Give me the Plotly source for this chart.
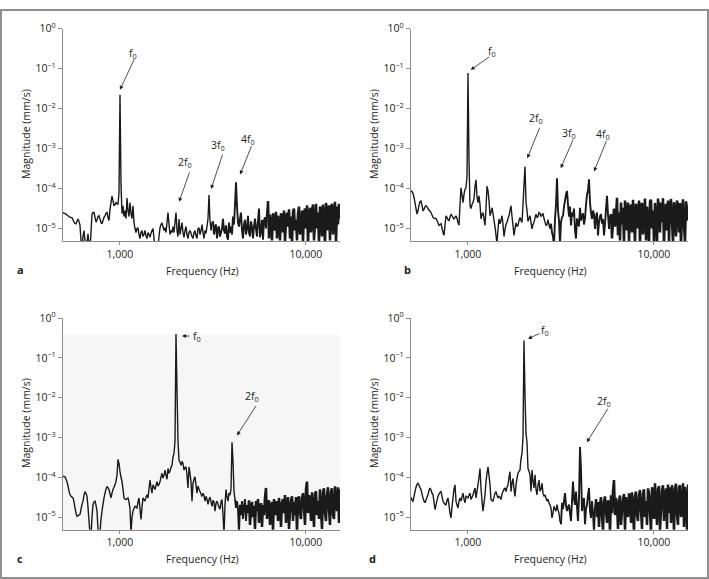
import numpy as np
import plotly.graph_objects as go

W, H = 709, 579

# frequency bins (Hz), log spaced over the plotted band
FREQ = np.logspace(2.694, 4.183, 278)

# spectra, as log10 of magnitude (mm/s)
MAG_A_LOG10 = [
    -4.60, -4.62, -4.62, -4.64, -4.66, -4.68, -4.70, -4.72, -4.72, -4.73,
    -4.78, -4.84, -4.87, -4.88, -4.82, -4.76, -4.82, -4.92, -5.30, -5.50,
    -5.20, -5.05, -5.30, -5.50, -5.35, -5.13, -5.40, -5.50, -5.10, -4.64,
    -4.60, -4.60, -4.72, -4.84, -4.78, -4.70, -4.68, -4.76, -4.85, -4.88,
    -4.80, -4.72, -4.68, -4.62, -4.60, -4.72, -4.80, -4.52, -4.35, -4.19,
    -4.30, -4.43, -4.40, -4.35, -4.38, -4.40, -4.10, -1.65, -3.90, -4.63,
    -4.43, -4.70, -4.55, -4.75, -4.24, -4.55, -4.70, -4.35, -4.62, -4.75,
    -4.43, -4.85, -5.00, -5.10, -5.00, -4.98, -5.15, -5.25, -5.10, -5.05,
    -5.20, -5.15, -5.05, -5.18, -5.25, -5.10, -5.15, -5.22, -5.12, -5.05,
    -5.00, -5.25, -5.45, -5.50, -5.50, -5.45, -5.20, -4.98, -4.90, -4.86,
    -4.95, -5.05, -4.98, -5.10, -4.85, -4.60, -4.90, -5.15, -5.05, -5.10,
    -4.95, -5.10, -4.85, -4.60, -5.05, -5.20, -4.76, -5.15, -5.00, -4.85,
    -5.10, -5.22, -5.05, -4.95, -5.15, -5.25, -5.10, -5.05, -5.12, -5.20,
    -5.25, -5.10, -5.05, -5.18, -5.25, -5.00, -4.98, -5.15, -5.05, -4.90,
    -5.10, -5.25, -5.05, -5.12, -4.95, -4.75, -4.16, -4.80, -5.05, -4.85,
    -4.82, -5.15, -4.95, -4.90, -5.25, -5.00, -4.95, -5.20, -5.10, -5.00,
    -4.76, -5.05, -5.12, -4.92, -5.20, -5.28, -4.85, -5.10, -4.95, -5.15,
    -4.70, -4.90, -4.40, -3.84, -4.45, -4.85, -4.95, -4.75, -4.60, -5.05,
    -5.25, -4.90, -4.78, -5.15, -5.00, -4.68, -5.10, -5.20, -4.82, -4.95,
    -5.25, -4.95, -4.75, -5.00, -5.20, -4.80, -4.50, -5.22, -5.05, -4.78,
    -5.28, -4.80, -4.72, -5.00, -4.60, -4.31, -5.25, -4.65, -4.90, -5.30,
    -4.62, -4.75, -5.05, -4.58, -5.25, -4.68, -4.85, -5.30, -4.62, -4.70,
    -5.10, -4.55, -5.35, -4.82, -4.60, -4.95, -4.52, -5.25, -4.70, -5.40,
    -4.58, -4.50, -5.05, -4.78, -5.30, -4.62, -4.45, -5.15, -4.90, -4.55,
    -5.35, -4.62, -4.50, -5.00, -4.42, -5.40, -4.70, -4.48, -5.10, -4.55,
    -4.40, -5.30, -4.85, -4.38, -5.00, -4.60, -5.40, -4.45, -4.52, -5.20,
    -4.40, -4.75, -5.45, -4.36, -4.60, -5.05, -4.42, -5.30, -4.50, -4.38,
    -5.15, -4.62, -4.33, -5.40, -4.45, -4.90, -4.38, -4.75,
]

MAG_B_LOG10 = [
    -4.05, -4.08, -4.12, -4.22, -4.35, -4.50, -4.64, -4.55, -4.42, -4.33,
    -4.31, -4.42, -4.56, -4.52, -4.45, -4.43, -4.46, -4.50, -4.54, -4.56,
    -4.60, -4.66, -4.72, -4.74, -4.75, -4.75, -4.80, -4.86, -4.92, -4.90,
    -4.88, -4.98, -5.10, -5.17, -4.92, -4.68, -4.72, -4.78, -4.80, -4.72,
    -4.64, -4.68, -4.72, -4.76, -4.72, -4.68, -4.75, -4.85, -4.92, -4.40,
    -3.98, -4.15, -4.35, -4.15, -4.02, -3.98, -3.70, -1.11, -3.30, -4.43,
    -4.50, -4.40, -4.35, -4.25, -3.95, -3.78, -4.20, -4.35, -4.18, -4.40,
    -4.76, -4.65, -4.60, -4.75, -4.92, -4.50, -3.94, -4.05, -4.30, -4.68,
    -4.60, -4.48, -4.62, -4.80, -4.95, -5.17, -5.40, -5.00, -4.76, -4.88,
    -4.80, -4.68, -4.90, -5.20, -5.02, -4.90, -4.84, -4.75, -4.68, -4.55,
    -4.43, -4.70, -4.92, -5.17, -5.00, -4.86, -4.95, -4.92, -4.80, -4.72,
    -4.80, -4.85, -4.40, -3.90, -3.45, -4.35, -4.55, -4.82, -4.75, -4.68,
    -4.85, -5.01, -4.90, -4.84, -4.74, -4.64, -4.72, -4.70, -4.60, -4.62,
    -4.70, -4.66, -4.62, -4.75, -4.84, -4.92, -4.90, -4.78, -4.90, -5.01,
    -4.88, -5.10, -5.20, -5.45, -4.76, -4.40, -3.74, -4.55, -4.80, -5.40,
    -4.84, -4.72, -4.68, -4.45, -4.30, -4.15, -4.06, -4.40, -4.70, -4.45,
    -4.92, -4.60, -4.70, -4.50, -5.05, -5.25, -4.75, -4.84, -4.95, -4.48,
    -4.80, -4.70, -4.62, -4.90, -4.75, -4.40, -4.15, -4.05, -3.77, -4.35,
    -4.60, -4.76, -4.55, -4.64, -5.01, -4.70, -4.60, -5.17, -4.85, -4.70,
    -4.64, -4.88, -4.76, -5.17, -4.90, -4.50, -4.18, -4.65, -5.01, -4.70,
    -4.64, -5.25, -4.85, -4.50, -4.95, -4.70, -4.23, -5.17, -4.60, -5.30,
    -4.35, -4.90, -4.48, -5.40, -4.30, -4.60, -5.05, -4.35, -5.35, -4.50,
    -4.40, -5.10, -4.28, -4.75, -5.40, -4.38, -4.55, -5.00, -4.30, -5.45,
    -4.42, -4.36, -5.15, -4.65, -4.25, -5.30, -4.45, -4.90, -5.40, -4.32,
    -4.28, -5.00, -4.55, -5.35, -4.36, -4.70, -5.40, -4.25, -4.50, -5.10,
    -4.35, -4.85, -4.24, -5.45, -4.60, -4.38, -5.05, -4.30, -5.35, -4.45,
    -4.26, -4.80, -5.40, -4.34, -4.55, -5.20, -4.30, -4.42, -5.10, -4.36,
    -5.45, -4.60, -4.27, -4.95, -5.35, -4.32, -4.50, -4.80,
]

MAG_C_LOG10 = [
    -3.98, -3.98, -3.99, -4.05, -4.11, -4.22, -4.35, -4.44, -4.48, -4.50,
    -4.52, -4.62, -4.77, -4.90, -4.98, -4.97, -4.95, -4.93, -4.80, -4.68,
    -4.60, -4.45, -4.36, -4.40, -4.48, -4.75, -5.10, -5.40, -5.50, -5.00,
    -4.69, -4.62, -4.60, -4.70, -4.85, -5.30, -5.50, -5.40, -5.05, -4.85,
    -4.68, -4.52, -4.40, -4.30, -4.23, -4.26, -4.31, -4.42, -4.52, -4.40,
    -4.31, -4.25, -4.19, -4.10, -3.95, -3.55, -3.65, -3.86, -4.00, -4.11,
    -4.30, -4.52, -4.55, -4.56, -4.54, -4.52, -4.62, -4.80, -5.40, -5.00,
    -4.85, -4.78, -4.73, -4.75, -4.77, -4.62, -4.52, -4.80, -5.06, -4.75,
    -4.52, -4.56, -4.60, -4.50, -4.44, -4.52, -4.30, -4.07, -4.25, -4.40,
    -4.19, -4.25, -4.31, -4.20, -4.11, -4.22, -4.18, -4.11, -4.00, -3.90,
    -4.02, -3.95, -3.82, -3.95, -4.05, -3.78, -3.90, -3.84, -3.75, -3.70,
    -3.49, -3.40, -3.10, -0.40, -1.80, -3.10, -3.57, -3.62, -3.70, -3.60,
    -3.65, -3.82, -3.76, -3.74, -3.95, -4.27, -3.74, -3.90, -4.11, -4.60,
    -4.15, -4.05, -3.99, -4.20, -4.40, -4.22, -4.30, -4.36, -4.42, -4.48,
    -4.40, -4.46, -4.60, -4.48, -4.55, -4.68, -4.56, -4.50, -4.62, -4.73,
    -4.58, -4.62, -4.85, -4.66, -4.60, -4.68, -4.75, -4.80, -4.62, -4.56,
    -4.93, -5.45, -4.70, -4.31, -4.50, -4.60, -4.40, -4.45, -4.31, -3.12,
    -3.60, -4.36, -4.55, -4.77, -4.60, -4.80, -5.40, -4.69, -4.95, -4.60,
    -5.05, -4.75, -4.55, -5.10, -4.70, -4.90, -4.58, -5.20, -4.80, -4.62,
    -5.00, -4.72, -5.30, -4.60, -4.85, -4.55, -5.15, -4.78, -4.65, -5.25,
    -4.70, -4.95, -4.50, -4.27, -5.05, -4.65, -4.58, -5.20, -4.85, -4.62,
    -5.35, -4.55, -4.75, -4.95, -4.60, -5.10, -4.52, -4.80, -5.25, -4.64,
    -4.55, -4.90, -4.45, -5.15, -4.70, -4.50, -5.30, -4.85, -4.58, -4.48,
    -5.10, -4.62, -4.95, -4.50, -5.40, -4.55, -4.48, -4.90, -5.05, -4.52,
    -4.40, -4.75, -5.20, -4.30, -4.11, -4.90, -4.45, -4.60, -5.10, -4.38,
    -4.80, -5.25, -4.42, -4.35, -4.95, -4.60, -5.05, -4.30, -4.85, -5.30,
    -4.38, -4.28, -4.90, -5.10, -4.45, -4.25, -4.80, -5.20, -4.36, -4.28,
    -4.95, -5.05, -4.23, -4.60, -4.85, -4.25, -5.15, -4.30,
]

MAG_D_LOG10 = [
    -4.50, -4.58, -4.60, -4.48, -4.36, -4.25, -4.18, -4.15, -4.20, -4.26,
    -4.31, -4.42, -4.52, -4.60, -4.64, -4.58, -4.50, -4.44, -4.33, -4.27,
    -4.32, -4.40, -4.44, -4.62, -4.81, -4.70, -4.58, -4.48, -4.42, -4.38,
    -4.36, -4.48, -4.60, -4.65, -4.68, -4.69, -4.58, -4.52, -4.70, -4.90,
    -5.02, -4.75, -4.52, -4.30, -4.19, -4.60, -4.70, -4.77, -4.60, -4.52,
    -4.60, -4.50, -4.40, -4.55, -4.64, -4.48, -4.50, -4.52, -4.45, -4.40,
    -4.56, -4.50, -4.44, -4.35, -4.27, -4.52, -4.35, -4.19, -4.00, -3.78,
    -4.27, -4.60, -4.85, -4.65, -4.44, -4.11, -3.90, -3.74, -3.95, -4.19,
    -4.56, -4.58, -4.60, -4.50, -4.40, -4.36, -4.45, -4.52, -4.48, -4.50,
    -4.56, -4.42, -4.36, -4.30, -4.27, -4.36, -4.25, -4.19, -4.00, -3.86,
    -4.36, -4.15, -4.03, -4.30, -4.48, -4.19, -4.02, -3.90, -3.85, -3.82,
    -3.53, -3.40, -3.00, -0.56, -1.96, -2.90, -3.12, -3.78, -3.85, -3.94,
    -4.36, -3.82, -4.10, -4.27, -3.94, -4.30, -4.44, -4.20, -4.07, -4.35,
    -4.30, -4.15, -4.40, -4.48, -4.44, -4.52, -4.60, -4.55, -4.65, -4.70,
    -4.77, -5.02, -4.90, -4.73, -4.80, -4.85, -4.69, -4.82, -4.90, -5.10,
    -5.18, -4.64, -4.80, -4.60, -4.40, -4.70, -4.85, -4.75, -4.69, -4.90,
    -5.10, -4.60, -4.11, -4.55, -4.69, -4.36, -4.75, -5.10, -4.52, -3.24,
    -3.80, -4.85, -4.60, -4.52, -5.18, -4.80, -4.69, -4.45, -4.27, -4.85,
    -5.02, -4.60, -4.90, -5.40, -4.77, -4.55, -5.00, -4.62, -5.25, -4.70,
    -4.50, -4.95, -5.35, -4.62, -4.48, -4.85, -5.15, -4.58, -4.65, -5.40,
    -4.45, -4.90, -4.35, -4.07, -4.95, -4.52, -4.70, -5.30, -4.60, -4.46,
    -5.20, -4.85, -4.55, -4.42, -5.35, -4.50, -4.90, -5.00, -4.40, -4.52,
    -5.15, -4.38, -4.80, -5.40, -4.48, -4.36, -4.95, -5.10, -4.45, -4.32,
    -4.85, -5.30, -4.42, -4.30, -5.00, -4.60, -5.20, -4.28, -4.40, -4.90,
    -5.40, -4.25, -4.36, -5.05, -4.15, -4.70, -5.20, -4.30, -4.22, -5.35,
    -4.85, -4.32, -4.20, -5.10, -4.55, -4.28, -5.30, -4.18, -4.90, -4.25,
    -5.15, -4.20, -4.45, -5.40, -4.30, -4.16, -4.95, -5.20, -4.25, -4.20,
    -5.00, -4.75, -4.15, -5.25, -4.24, -4.60, -5.35, -4.18,
]

Y_TICKS = [1, 1e-1, 1e-2, 1e-3, 1e-4, 1e-5]
Y_TICKTEXT = ['10<sup>0</sup>', '10<sup>\u22121</sup>', '10<sup>\u22122</sup>',
              '10<sup>\u22123</sup>', '10<sup>\u22124</sup>', '10<sup>\u22125</sup>']
X_TICKS = [1000, 10000]
X_TICKTEXT = ['1,000', '10,000']

# harmonic markers: (label, arrow head log10 f, log10 mag, tail dx, dy, label log10 f, log10 mag)
MARKS = {
    'a': [('f<sub>0</sub>', 3.000, -1.53, 15, -32, 3.070, -0.62),
          ('2f<sub>0</sub>', 3.318, -4.33, 11, -31, 3.350, -3.35),
          ('3f<sub>0</sub>', 3.490, -4.01, 12, -36, 3.527, -2.93),
          ('4f<sub>0</sub>', 3.646, -3.65, 12, -30, 3.689, -2.76)],
    'b': [('f<sub>0</sub>', 3.015, -1.03, 20, -14, 3.129, -0.57),
          ('2f<sub>0</sub>', 3.319, -3.24, 13, -32, 3.366, -2.24),
          ('3f<sub>0</sub>', 3.499, -3.49, 13, -30, 3.543, -2.61),
          ('4f<sub>0</sub>', 3.678, -3.57, 13, -32, 3.726, -2.64)],
    'c': [('f<sub>0</sub>', 3.334, -0.45, 9, 0, 3.414, -0.47),
          ('2f<sub>0</sub>', 3.629, -2.95, 20, -31, 3.710, -1.98)],
    'd': [('f<sub>0</sub>', 3.323, -0.52, 13, -6, 3.414, -0.32),
          ('2f<sub>0</sub>', 3.639, -3.12, 22, -35, 3.732, -2.10)],
}

FONT = 'Open Sans, sans-serif'
INK = '#231f20'
AXIS_GREY = '#8c8c8c'


def fx(px):
    return px / W


def fy(py):
    return 1 - py / H


# pixel boxes of the four plot areas: (left, right), (top, bottom)
BOXES = {
    'a': ((63, 340), (20, 236)),
    'b': ((411, 688), (20, 236)),
    'c': ((63, 340), (314, 529)),
    'd': ((411, 688), (314, 529)),
}
SERIES = {'a': MAG_A_LOG10, 'b': MAG_B_LOG10, 'c': MAG_C_LOG10, 'd': MAG_D_LOG10}
# bins where the trace turns into a busy, then a dense noise band (drawn heavier there)
BUSY_FROM = {'a': 150, 'b': 140, 'c': 172, 'd': 150}
DENSE_FROM = {'a': 205, 'b': 200, 'c': 185, 'd': 185}

fig = go.Figure()
layout = dict()
annotations = []


def note(x, y, text, size=10.5, **kw):
    # centred paper-positioned text
    d = dict(x=fx(x), y=fy(y), xref='paper', yref='paper', text=text, showarrow=False,
             xanchor='center', yanchor='middle', font=dict(size=size, color=INK))
    d.update(kw)
    return d


for k, name in enumerate(['a', 'b', 'c', 'd']):
    n = '' if k == 0 else str(k + 1)
    (x0, x1), (y0, y1) = BOXES[name]
    mag = 10 ** np.array(SERIES[name])
    s1, s2 = BUSY_FROM[name], DENSE_FROM[name]

    for sl, w in ((slice(0, s1 + 1), 1.4), (slice(s1, s2 + 1), 1.9), (slice(s2, None), 2.5)):
        fig.add_trace(go.Scatter(
            x=FREQ[sl], y=mag[sl],
            mode='lines', line=dict(color='#1a1a1a', width=w, simplify=False),
            xaxis='x' + n, yaxis='y' + n, showlegend=False, hoverinfo='skip'
        ))

    layout['xaxis' + n] = dict(
        type='log', range=[2.694, 4.183], domain=[fx(x0), fx(x1)], anchor='y' + n,
        showgrid=False, zeroline=False, showline=True, linecolor=AXIS_GREY, linewidth=1.2,
        ticks='outside', ticklen=3, tickcolor=AXIS_GREY, tickwidth=1,
        tickvals=X_TICKS, ticktext=X_TICKTEXT, tickfont=dict(size=10.5, color=INK),
        fixedrange=True,
    )
    layout['yaxis' + n] = dict(
        type='log', range=[-5.32, 0], domain=[fy(y1), fy(y0)], anchor='x' + n,
        showgrid=False, zeroline=False, showline=True, linecolor=AXIS_GREY, linewidth=1.2,
        ticks='outside', ticklen=4, tickcolor=AXIS_GREY, tickwidth=1,
        tickvals=Y_TICKS, ticktext=Y_TICKTEXT, tickfont=dict(size=10.5, color=INK),
        fixedrange=True,
    )

    # axis titles and panel letter
    title_x = 26 if name in 'ac' else 374
    annotations.append(note(title_x, (y0 + y1) / 2 - 1, 'Magnitude (mm/s)', textangle=-90))
    annotations.append(note(202 if name in 'ac' else 550, y1 + 30, 'Frequency (Hz)'))
    letter_x = {'a': 20, 'b': 407, 'c': 20, 'd': 373}[name]
    annotations.append(note(letter_x, y1 + 29, '<b>%s</b>' % name, size=11))

    for label, hx, hy, dx, dy, lx, ly in MARKS[name]:
        annotations.append(dict(x=hx, y=hy, xref='x' + n, yref='y' + n, ax=dx, ay=dy,
                                text='', showarrow=True, arrowhead=2, arrowsize=1,
                                arrowwidth=0.8, arrowcolor=INK))
        annotations.append(dict(x=lx, y=ly, xref='x' + n, yref='y' + n, text=label,
                                xanchor='center', yanchor='middle',
                                showarrow=False, font=dict(size=10.5, color=INK)))

shapes = [
    # light panel behind spectrum c
    dict(type='rect', xref='x3 domain', yref='y3 domain', x0=0, x1=1, y0=0, y1=0.921,
         fillcolor='#f6f6f6', line=dict(width=0), layer='below'),
    # outer frame
    dict(type='rect', xref='paper', yref='paper', x0=fx(1), x1=fx(708), y0=fy(578), y1=fy(1),
         line=dict(color='#8f8f8f', width=2), fillcolor='rgba(0,0,0,0)'),
]

fig.update_layout(
    width=W, height=H,
    margin=dict(l=0, r=0, t=0, b=0, pad=0),
    paper_bgcolor='white', plot_bgcolor='rgba(0,0,0,0)',
    font=dict(family=FONT, color=INK),
    annotations=annotations, shapes=shapes,
    **layout
)

# pin the figure to the page corner so the browser's default body margin does not shift it
PIN = ("document.body.style.margin='0';document.body.style.overflow='hidden';"
       "var g=document.getElementById('{plot_id}');g.style.position='fixed';"
       "g.style.left='0px';g.style.top='0px';")

fig.write_html("out.html", post_script=PIN, config={'displayModeBar': False})
